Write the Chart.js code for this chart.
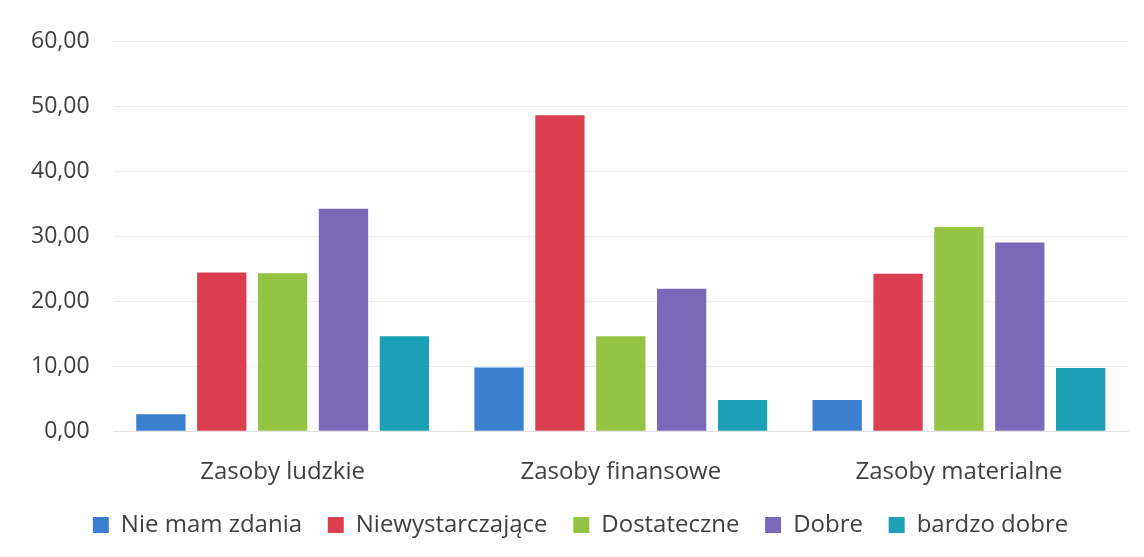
<!DOCTYPE html>
<html>
<head>
<meta charset="utf-8">
<script src="https://cdn.jsdelivr.net/npm/chart.js@4"></script>
<style>
  html, body { margin: 0; padding: 0; background: #fff; }
  #wrap { width: 1144px; height: 557px; }
</style>
</head>
<body>
<div id="wrap"><canvas id="myChart" width="1144" height="557"></canvas></div>
<script>
// categories and series
var categories = ["Zasoby ludzkie", "Zasoby finansowe", "Zasoby materialne"];
var seriesNames = ["Nie mam zdania", "Niewystarczające", "Dostateczne", "Dobre", "bardzo dobre"];
var nieMamZdania = [2.6, 9.8, 4.8];
var niewystarczajace = [24.4, 48.6, 24.2];
var dostateczne = [24.3, 14.6, 31.4];
var dobre = [34.2, 21.9, 29.0];
var bardzoDobre = [14.6, 4.8, 9.7];
var yTicks = [0, 10, 20, 30, 40, 50, 60];

var colors = ["#3b80cf", "#db3f4f", "#94c444", "#7a69b9", "#1ca0b6"];
var values = [nieMamZdania, niewystarczajace, dostateczne, dobre, bardzoDobre];

var datasets = [];
for (var i = 0; i < seriesNames.length; i++) {
  datasets.push({
    label: seriesNames[i],
    data: values[i],
    backgroundColor: colors[i],
    borderWidth: 0,
    categoryPercentage: 0.9,
    barPercentage: 0.81
  });
}

Chart.defaults.font.family = "'Open Sans', 'Noto Sans', sans-serif";
Chart.defaults.color = "#404040";

// nudge the legend row a bit to the right, like in the original
var legendShift = {
  id: 'legendShift',
  afterLayout: function (chart) {
    chart.legend.left += 13;
    chart.legend.right += 13;
  }
};

var canvas = document.getElementById("myChart");
var myChart = new Chart(canvas, {
  type: 'bar',
  data: { labels: categories, datasets: datasets },
  plugins: [legendShift],
  options: {
    responsive: false,
    animation: false,
    layout: { padding: { top: 41, right: 16, left: 7, bottom: 10 } },
    plugins: {
      tooltip: { enabled: false },
      legend: {
        position: 'bottom',
        labels: {
          boxWidth: 16,
          boxHeight: 16,
          padding: 7,
          font: { size: 24 },
          color: "#404040",
          // trailing spaces widen the gap between items without making the legend taller
          generateLabels: function (chart) {
            var items = Chart.defaults.plugins.legend.labels.generateLabels(chart);
            items.forEach(function (it, k) {
              if (k < items.length - 1) it.text = it.text + "   ";
            });
            return items;
          }
        }
      }
    },
    scales: {
      x: {
        grid: { display: false },
        border: { color: "#e0e0e0" },
        ticks: { font: { size: 24 }, padding: 19, color: "#404040" }
      },
      y: {
        min: 0,
        max: 60,
        afterBuildTicks: function (axis) {
          axis.ticks = yTicks.map(function (v) { return { value: v }; });
        },
        grid: { color: "#ececec", drawTicks: false },
        border: { display: false },
        ticks: {
          font: { size: 23 },
          padding: 24,
          color: "#404040",
          callback: function (v) { return v.toFixed(2).replace(".", ","); }
        }
      }
    }
  }
});
</script>
</body>
</html>
